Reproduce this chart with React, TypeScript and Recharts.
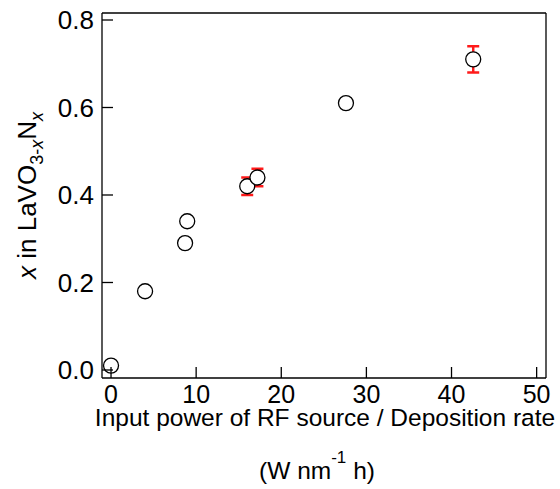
import { ScatterChart, Scatter, XAxis, YAxis, ErrorBar, ReferenceLine } from 'recharts';

// values
const inputPower = [0, 4.0, 8.7, 8.95, 16.0, 17.2, 27.6, 42.55];
const nitrogenX = [0.01, 0.18, 0.29, 0.34, 0.42, 0.44, 0.61, 0.71];
const nitrogenErr = [0, 0, 0, 0, 0.02, 0.02, 0, 0.03];

const xTicks = [0, 10, 20, 30, 40, 50];
const yTicks = [0, 0.2, 0.4, 0.6, 0.8];
const xDomain = [-1.06, 51.1];
const yDomain = [-0.0183, 0.816];

const data = inputPower.map((x, i) => ({
  x,
  y: nitrogenX[i],
  err: nitrogenErr[i] || undefined,
}));

const FONT = '"Liberation Sans", Arial, sans-serif';
const INK = '#000';

const XTick = (props: any) => {
  const { x, y, payload } = props;
  return (
    <g>
      <line x1={x} y1={y - 11} x2={x} y2={y} stroke={INK} strokeWidth={1.3} />
      <text x={x} y={y + 25} textAnchor="middle" fontSize={25} fontFamily={FONT} fill={INK}>
        {payload.value}
      </text>
    </g>
  );
};

const YTick = (props: any) => {
  const { x, y, payload } = props;
  return (
    <g>
      <line x1={x} y1={y} x2={x + 11} y2={y} stroke={INK} strokeWidth={1.3} />
      <text x={x - 8} y={y} dy="0.36em" textAnchor="end" fontSize={26} fontFamily={FONT} fill={INK}>
        {Number(payload.value).toFixed(1)}
      </text>
    </g>
  );
};

const XTitle = (props: any) => {
  const { x, y, width } = props.viewBox;
  const cx = x + width / 2;
  return (
    <g fontFamily={FONT} fill={INK}>
      <text x={cx + 1} y={y + 48} textAnchor="middle" fontSize={24.5}>
        Input power of RF source / Deposition rate
      </text>
      <text x={cx - 7} y={y + 101} textAnchor="middle" fontSize={24.5}>
        (W nm
        <tspan dy={-16} fontSize={17}>-1</tspan>
        <tspan dy={16}> h)</tspan>
      </text>
    </g>
  );
};

const YTitle = (props: any) => {
  const { y, height } = props.viewBox;
  const bx = 36;
  const cy = y + height / 2;
  return (
    <text
      x={bx}
      y={cy}
      transform={`rotate(-90, ${bx}, ${cy})`}
      textAnchor="middle"
      fontSize={26}
      fontFamily={FONT}
      fill={INK}
    >
      <tspan fontStyle="italic">x</tspan>
      <tspan> in LaVO</tspan>
      <tspan dy={7} fontSize={18}>3-</tspan>
      <tspan fontSize={18} fontStyle="italic">x</tspan>
      <tspan dy={-7}>N</tspan>
      <tspan dy={7} fontSize={18} fontStyle="italic">x</tspan>
    </text>
  );
};

const OpenCircle = (props: any) => (
  <circle cx={props.cx} cy={props.cy} r={7.5} fill="#fff" stroke={INK} strokeWidth={1.3} />
);

export default function App() {
  return (
    <div style={{ position: 'absolute', left: 0, top: 0 }}>
      <ScatterChart width={560} height={489} margin={{ top: 13, right: 14, bottom: 0, left: 0 }}>
        <XAxis
          type="number"
          dataKey="x"
          domain={xDomain}
          ticks={xTicks}
          interval={0}
          allowDataOverflow
          height={111}
          tickSize={0}
          tickMargin={0}
          tickLine={false}
          tick={<XTick />}
          axisLine={{ stroke: INK, strokeWidth: 1.3 }}
          label={XTitle}
        />
        <YAxis
          type="number"
          dataKey="y"
          domain={yDomain}
          ticks={yTicks}
          interval={0}
          allowDataOverflow
          width={102}
          tickSize={0}
          tickMargin={0}
          tickLine={false}
          tick={<YTick />}
          axisLine={{ stroke: INK, strokeWidth: 1.3 }}
          label={YTitle}
        />
        {/* top and right edges of the frame */}
        <ReferenceLine y={yDomain[1]} stroke={INK} strokeWidth={1.3} ifOverflow="visible" />
        <ReferenceLine x={xDomain[1]} stroke={INK} strokeWidth={1.3} ifOverflow="visible" />
        <Scatter data={data} shape={OpenCircle} isAnimationActive={false}>
          <ErrorBar dataKey="err" direction="y" stroke="#ff1a1a" strokeWidth={2.5} width={6} />
        </Scatter>
      </ScatterChart>
    </div>
  );
}
